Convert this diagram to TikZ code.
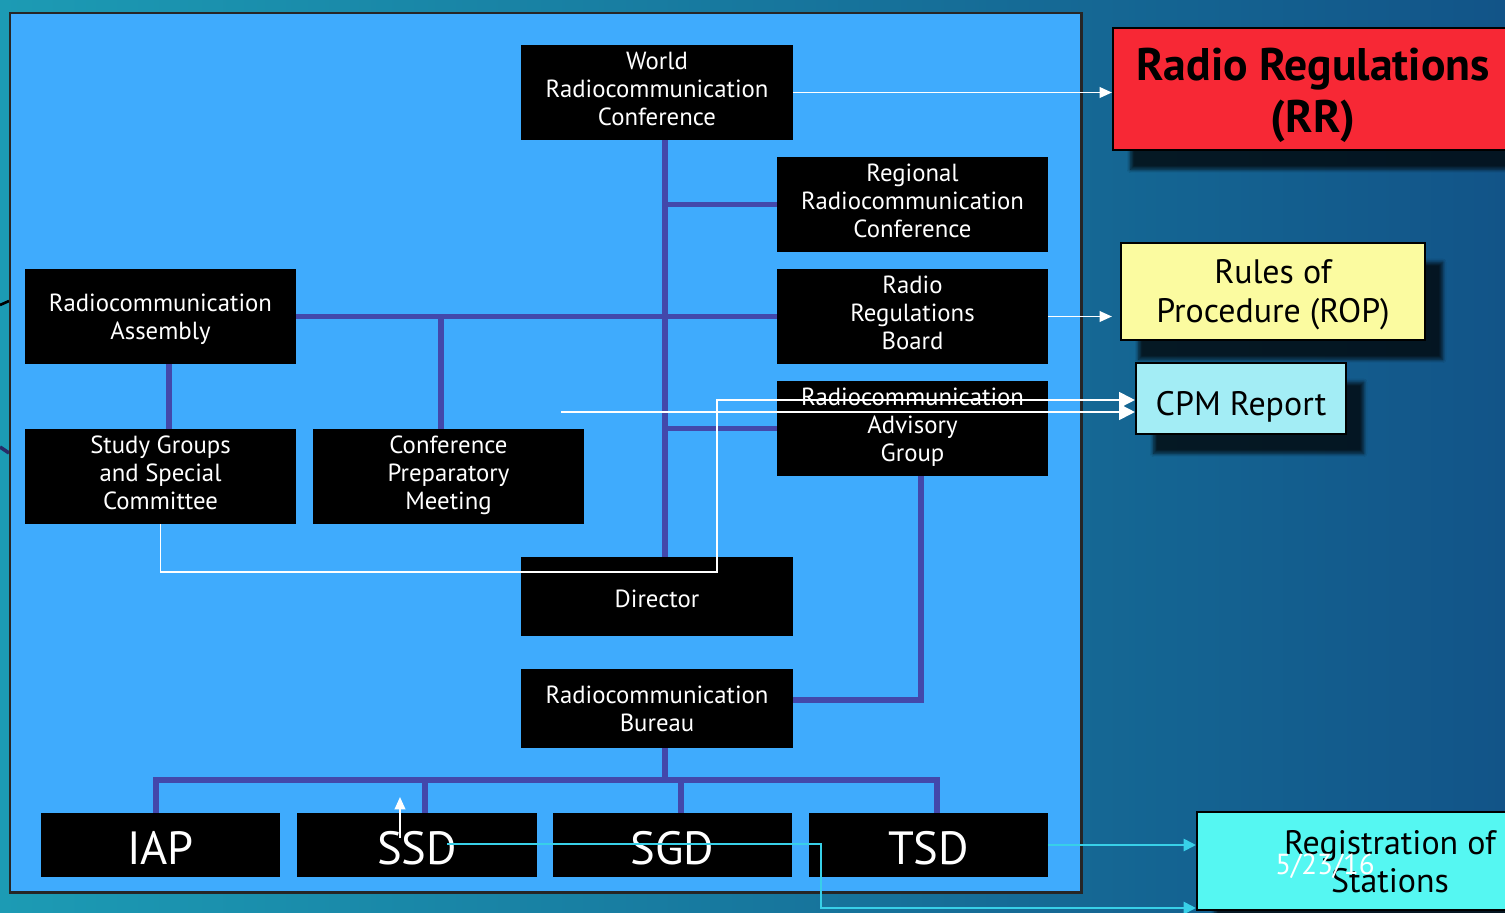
\documentclass[tikz,border=0pt]{standalone}
\usepackage{fontspec}
\setmainfont{PT Sans}
\usetikzlibrary{arrows.meta,shadows.blur,calc}
\definecolor{panel}{RGB}{63,171,253}
\definecolor{pur}{RGB}{67,72,171}
\definecolor{rrred}{RGB}{247,40,53}
\definecolor{ropy}{RGB}{251,251,160}
\definecolor{cpmc}{RGB}{163,237,245}
\definecolor{regc}{RGB}{85,247,242}
\definecolor{cyl}{RGB}{56,208,232}
\definecolor{bgl}{RGB}{28,155,180}
\definecolor{bgr}{RGB}{18,84,136}
\newcommand{\fsb}{\fontsize{14.1pt}{15.9pt}\selectfont}
\newcommand{\fsbig}{\fontsize{26.5pt}{30pt}\selectfont}
\newcommand{\fsr}{\fontsize{19.3pt}{22pt}\selectfont}
\newcommand{\fsrr}{\fontsize{26pt}{30pt}\selectfont\bfseries}
\newcommand{\sh}[2]{\raisebox{#1}[\height][\depth]{\begin{tabular}{@{}c@{}}#2\end{tabular}}}
\begin{document}
\begin{tikzpicture}[x=0.02cm,y=-0.02cm,
  blk/.style={fill=black,text=white,align=center,inner sep=0pt,font=\fsb},
  big/.style={blk,font=\fsbig},
  side/.style={draw=black,line width=1.2pt,align=center,inner sep=0pt,text=black,
     blur shadow={shadow xshift=10pt,shadow yshift=-11pt,shadow opacity=75,shadow blur steps=6}},
  purl/.style={draw=pur,line width=3.2pt},
  wl/.style={draw=white,line width=1.1pt},
  wa/.style={wl,-{Triangle[length=7pt,width=6pt]}},
  wab/.style={wl,-{Triangle[length=9pt,width=9pt]}},
  cl/.style={draw=cyl,line width=1.1pt,-{Triangle[length=7pt,width=7pt]}}]
\useasboundingbox (0,0) rectangle (1505,913);
\clip (0,0) rectangle (1505,913);
\shade[left color=bgl,right color=bgr] (0,0) rectangle (1505,913);
\draw[black,line width=1.5pt] (0,305) -- (9,301);
\draw[pur!60!black,line width=2pt] (0,447) -- (9,453);
% panel
\filldraw[fill=panel,draw=black!85,line width=1.7pt] (10,13) rectangle (1081,892);
% boxes
\node[blk,minimum width={272*0.02cm},minimum height={95*0.02cm}] (wrc) at (657,92.5) {\sh{0.5pt}{World\\Radiocommunication\\Conference}};
\node[blk,minimum width={271*0.02cm},minimum height={95*0.02cm}] (rrc) at (912.5,204.5) {\sh{0.3pt}{Regional\\Radiocommunication\\Conference}};
\node[blk,minimum width={271*0.02cm},minimum height={95*0.02cm}] (rrb) at (912.5,316.5) {\sh{0.2pt}{Radio\\Regulations\\Board}};
\node[blk,minimum width={271*0.02cm},minimum height={95*0.02cm}] (rag) at (912.5,428.5) {\sh{0.4pt}{Radiocommunication\\Advisory\\Group}};
\node[blk,minimum width={271*0.02cm},minimum height={95*0.02cm}] (ra) at (160.5,316.5) {\sh{-2pt}{Radiocommunication\\Assembly}};
\node[blk,minimum width={271*0.02cm},minimum height={95*0.02cm}] (sg) at (160.5,476.5) {\sh{0.4pt}{Study Groups\\and Special\\Committee}};
\node[blk,minimum width={271*0.02cm},minimum height={95*0.02cm}] (cpm) at (448.5,476.5) {\sh{0.2pt}{Conference\\Preparatory\\Meeting}};
\node[blk,minimum width={272*0.02cm},minimum height={79*0.02cm}] (dir) at (657,596.5) {\sh{-3.2pt}{Director}};
\node[blk,minimum width={272*0.02cm},minimum height={79*0.02cm}] (br) at (657,708.5) {Radiocommunication\\Bureau};
\node[big,minimum width={239*0.02cm},minimum height={64*0.02cm}] (iap) at (160.5,845) {\sh{-5pt}{IAP}};
\node[big,minimum width={240*0.02cm},minimum height={64*0.02cm}] (ssd) at (417,845) {\sh{-5pt}{SSD}};
\node[big,minimum width={239*0.02cm},minimum height={64*0.02cm}] (sgd) at (672.5,845) {\sh{-5pt}{SGD}};
\node[big,minimum width={239*0.02cm},minimum height={64*0.02cm}] (tsd) at (928.5,845) {\sh{-5pt}{TSD}};
% right side boxes
\node[side,fill=rrred,font=\fsrr,minimum width={400*0.02cm},minimum height={122*0.02cm}] (rr) at (1313,89) {\sh{-4pt}{Radio Regulations\\(RR)}};
\node[side,fill=ropy,font=\fsr,minimum width={304*0.02cm},minimum height={97*0.02cm}] (rop) at (1273,291.5) {\sh{-2.3pt}{Rules of\\Procedure (ROP)}};
\node[side,fill=cpmc,font=\fsr,minimum width={210*0.02cm},minimum height={71*0.02cm}] (cpmr) at (1241,398.5) {\sh{-5pt}{CPM Report}};
\node[side,fill=regc,font=\fsr,minimum width={386*0.02cm},minimum height={98*0.02cm}] (reg) at (1390,861) {\sh{-2.8pt}{Registration of\\Stations}};
\node[text=white,font=\fontsize{16.5pt}{19pt}\selectfont,inner sep=0pt] (date) at (1325,866) {5/23/16};
% helper coordinates
\coordinate (trunk) at (665,0);
\coordinate (cpx) at (441,0);
\coordinate (rax) at (169,0);
\coordinate (ragx) at (921,0);
\coordinate (bry) at (0,700);
\coordinate (bus) at (0,780);
\coordinate (bl) at (156,780);
\coordinate (brr) at (937,780);
\coordinate (ssdx) at (425,0);
\coordinate (sgdx) at (681,0);
% purple connectors
\draw[purl] (trunk |- wrc.south) -- (trunk |- dir.north);
\draw[purl] (trunk |- rrc.west) -- (rrc.west);
\draw[purl] (ra.east) -- (rrb.west);
\draw[purl] (cpx |- ra.east) -- (cpx |- cpm.north);
\draw[purl] (trunk |- rag.west) -- (rag.west);
\draw[purl] (rax |- ra.south) -- (rax |- sg.north);
\draw[purl,line join=miter] (ragx |- rag.south) -- (ragx |- bry) -- (br.east |- bry);
\draw[purl] (trunk |- br.south) -- (trunk |- bus);
\draw[purl,line join=miter] (bl |- iap.north) -- (bl) -- (brr) -- (brr |- tsd.north);
\draw[purl] (ssdx |- bus) -- (ssdx |- ssd.north);
\draw[purl] (sgdx |- bus) -- (sgdx |- sgd.north);
% white connectors
\draw[wa] (wrc.east) -- (wrc.east -| rr.west);
\draw[wa] (rrb.east) -- (rrb.east -| rr.west);
\coordinate (s1) at (561,412);
\draw[wab] (s1) -- (s1 -| cpmr.west);
\coordinate (j1) at (717,572);
\coordinate (j2) at (717,400);
\draw[wab] (sg.south) |- (j1) -- (j2) -- (j2 -| cpmr.west);
\coordinate (u0) at (400,838);
\coordinate (u1) at (400,797);
\draw[wa] (u0) -- (u1);
% cyan connectors
\coordinate (c0) at (447,844);
\coordinate (c1) at (821,844);
\coordinate (c2) at (821,908);
\draw[cl] (c0) -- (c1) -- (c2) -- (c2 -| reg.west);
\draw[cl] (tsd.east) -- (tsd.east -| reg.west);
\end{tikzpicture}
\end{document}
